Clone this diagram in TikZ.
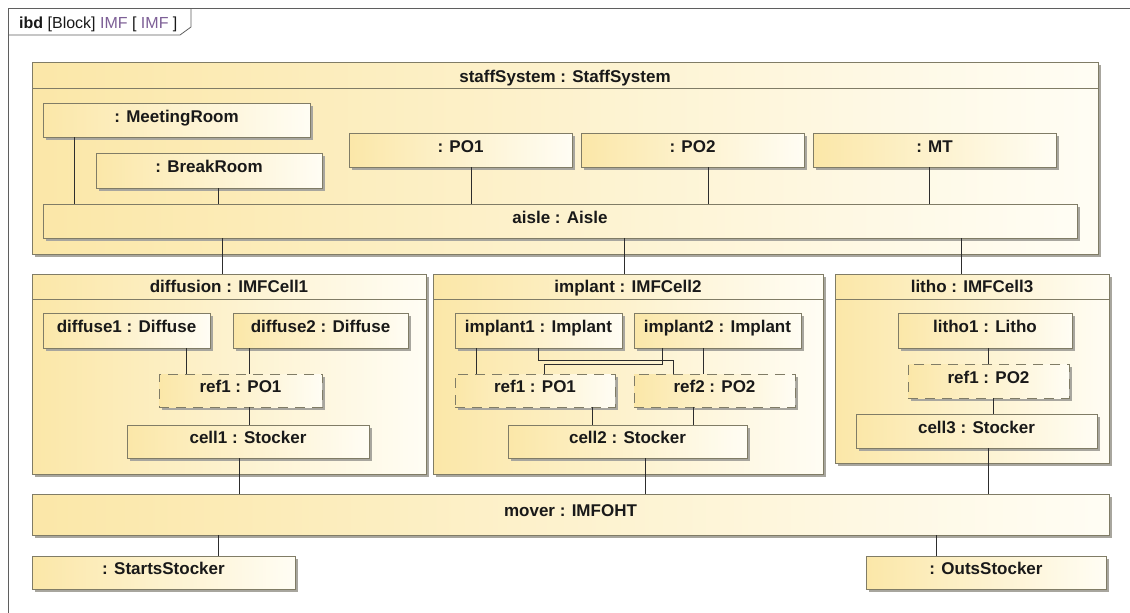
\documentclass[tikz,border=0pt]{standalone}
\usepackage{fontspec}
\setmainfont{Liberation Sans}
\usetikzlibrary{shadows,calc}
\definecolor{yl}{RGB}{251,231,168}
\definecolor{yr}{RGB}{255,253,244}
\definecolor{bord}{RGB}{128,124,102}
\definecolor{shad}{RGB}{168,166,158}
\definecolor{wirec}{RGB}{45,45,45}
\definecolor{txt}{RGB}{25,25,25}
\definecolor{imf}{RGB}{125,95,150}
\definecolor{framec}{RGB}{95,95,95}
\newcommand\pbox[7][box]{\node[#1, minimum width={#5-#3}, minimum height={#6-#4}] (#2) at ({(#3+#5)/2},{(#4+#6)/2}) {#7};}
\newcommand\vw[3]{\draw[wire] (#1.south -| #3,0) -- (#2.north -| #3,0);}
\begin{document}
\begin{tikzpicture}[x=1pt,y=-1pt,
  box/.style={draw=bord, line width=0.8pt, left color=yl, right color=yr,
    inner sep=0pt, outer sep=0pt,
    drop shadow={shadow xshift=3pt, shadow yshift=-3pt, fill=shad, opacity=1},
    font=\fontsize{17}{20}\selectfont\bfseries, text=txt,
    text height=12pt, text depth=8pt},
  refbox/.style={box, dash pattern=on 10pt off 7pt},
  wire/.style={draw=wirec, line width=0.8pt},
  ttl/.style={font=\fontsize{17}{20}\selectfont\bfseries, text=txt, inner sep=0pt, anchor=base},
  framel/.style={draw=framec, line width=0.8pt},
]
\useasboundingbox (0,0) rectangle (1130,613);
\fill[white] (0,0) rectangle (1130,613);

% diagram frame and tab
\draw[framel] (8,613) -- (8,8) -- (1130,8);
\draw[framel] (191,8) -- (191,27) -- (180,35) -- (8,35);
\node[anchor=base west, inner sep=0pt, font=\fontsize{16}{19}\selectfont, text=txt] (hdr) at (19,28)
  {\textbf{ibd} [Block] \textcolor{imf}{IMF} [ \textcolor{imf}{IMF} ]};

% containers
\pbox{ss}{32}{62}{1098}{254}{}
\draw[draw=bord, line width=0.8pt] (ss.west |- 0,88) -- (ss.east |- 0,88);
\node[ttl] (ssT) at (565,82) {staffSystem : StaffSystem};

\pbox{diff}{32}{274}{426}{474}{}
\draw[draw=bord, line width=0.8pt] (diff.west |- 0,299) -- (diff.east |- 0,299);
\node[ttl] (diffT) at (229,292) {diffusion : IMFCell1};

\pbox{impl}{433}{274}{823}{474}{}
\draw[draw=bord, line width=0.8pt] (impl.west |- 0,299) -- (impl.east |- 0,299);
\node[ttl] (implT) at (628,292) {implant : IMFCell2};

\pbox{litho}{835}{274}{1109}{463}{}
\draw[draw=bord, line width=0.8pt] (litho.west |- 0,299) -- (litho.east |- 0,299);
\node[ttl] (lithoT) at (972,292) {litho : IMFCell3};

\pbox{mover}{32}{494}{1109}{535}{mover : IMFOHT}

% staff system parts
\pbox{mr}{43}{103}{310}{137}{: MeetingRoom}
\pbox{br}{96}{153}{322}{188}{: BreakRoom}
\pbox{po1}{349}{133}{572}{167}{: PO1}
\pbox{po2}{581}{133}{804}{167}{: PO2}
\pbox{mt}{813}{133}{1056}{167}{: MT}
\pbox{aisle}{43}{204}{1077}{238}{aisle : Aisle}

% diffusion parts
\pbox{d1}{43}{313}{210}{348}{diffuse1 : Diffuse}
\pbox{d2}{233}{313}{408}{348}{diffuse2 : Diffuse}
\pbox[refbox]{dref}{159}{374}{322}{407}{ref1 : PO1}
\pbox{c1}{127}{425}{369}{458}{cell1 : Stocker}

% implant parts
\pbox{i1}{455}{313}{622}{348}{implant1 : Implant}
\pbox{i2}{634}{313}{801}{348}{implant2 : Implant}
\pbox[refbox]{iref1}{455}{374}{615}{407}{ref1 : PO1}
\pbox[refbox]{iref2}{634}{374}{795}{407}{ref2 : PO2}
\pbox{c2}{508}{425}{747}{458}{cell2 : Stocker}

% litho parts
\pbox{l1}{898}{313}{1072}{348}{litho1 : Litho}
\pbox[refbox]{lref}{908}{364}{1069}{398}{ref1 : PO2}
\pbox{c3}{856}{414}{1097}{448}{cell3 : Stocker}

% stockers
\pbox{sst}{32}{556}{295}{589}{: StartsStocker}
\pbox{ost}{866}{556}{1106}{589}{: OutsStocker}

% connectors
\vw{mr}{aisle}{74}
\vw{br}{aisle}{218}
\vw{po1}{aisle}{471}
\vw{po2}{aisle}{708}
\vw{mt}{aisle}{929}
\vw{aisle}{diff}{222}
\vw{aisle}{impl}{624}
\vw{aisle}{litho}{961}
\vw{d1}{dref}{186}
\vw{d2}{dref}{249}
\vw{dref}{c1}{249}
\vw{c1}{mover}{239}
\vw{i1}{iref1}{476}
\vw{i2}{iref2}{703}
\draw[wire] (i1.south -| 538,0) |- (673,360) -- (iref2.north -| 673,0);
\draw[wire] (i2.south -| 662,0) |- (544,364) -- (iref1.north -| 544,0);
\vw{iref1}{c2}{592}
\vw{iref2}{c2}{693}
\vw{c2}{mover}{645}
\vw{l1}{lref}{988}
\vw{lref}{c3}{993}
\vw{c3}{mover}{988}
\vw{mover}{sst}{218}
\vw{mover}{ost}{936}
\end{tikzpicture}
\end{document}
